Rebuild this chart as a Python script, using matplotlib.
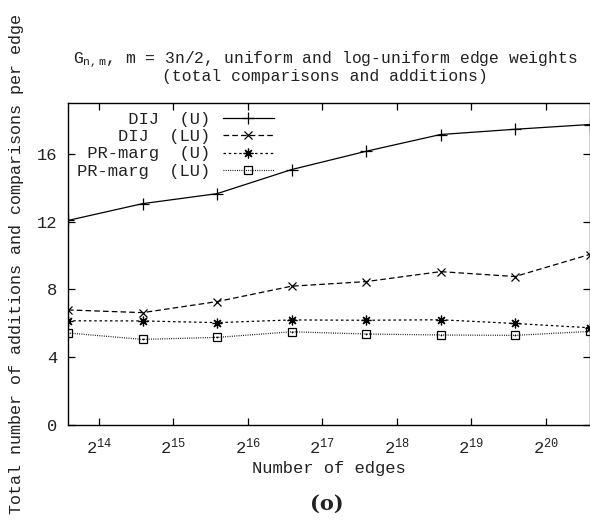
import numpy as np
import matplotlib
matplotlib.use("Agg")
import matplotlib.pyplot as plt

# data
log_n = [13, 14, 15, 16, 17, 18, 19, 20]
edges = [1.5 * 2 ** k for k in log_n]
dij_u = [12.07, 13.06, 13.65, 15.07, 16.15, 17.14, 17.45, 17.73]
dij_lu = [6.79, 6.63, 7.28, 8.19, 8.46, 9.05, 8.76, 10.06]
pr_u = [6.15, 6.14, 6.04, 6.20, 6.18, 6.21, 5.99, 5.74]
pr_lu = [5.43, 5.05, 5.17, 5.50, 5.37, 5.31, 5.29, 5.52]
labels = ["     DIJ  (U)", "    DIJ  (LU)", " PR-marg  (U)", "PR-marg  (LU)"]
xtick_pows = [14, 15, 16, 17, 18, 19, 20]
yticks = [0, 4, 8, 12, 16]

mono = "Liberation Mono"
plt.rcParams['font.family'] = [mono, 'DejaVu Sans Mono']
plt.rcParams['mathtext.fontset'] = 'custom'
plt.rcParams['mathtext.rm'] = mono
plt.rcParams['mathtext.it'] = mono
plt.rcParams['mathtext.tt'] = mono

FS = 12.3
TXT = '#222222'

fig = plt.figure(figsize=(5.90, 5.24), dpi=100)
ax = fig.add_axes([68 / 590, 1 - 425 / 524, (589.5 - 68) / 590, (425 - 103) / 524])

lw = 0.9
ax.plot(edges, dij_u, color='black', lw=lw, ls='-', marker='+', ms=8, mew=0.9, label=labels[0])
ax.plot(edges, dij_lu, color='black', lw=lw, ls=(0, (4.5, 2.5)), marker='x', ms=6, mew=0.9, label=labels[1])
ax.plot(edges, pr_u, color='black', lw=lw, ls=(0, (2, 2.2)), marker=(8, 2, 0), ms=7, mew=0.9, label=labels[2])
ax.plot(edges, pr_lu, color='black', lw=lw, ls=(0, (0.7, 1.1)), marker='s', ms=6, mfc='none', mew=0.9, label=labels[3])
ax.plot(edges, pr_lu, color='black', lw=0, marker='o', ms=1.3, mew=0)

ax.set_xscale('log', base=2)
ax.set_xlim(edges[0], edges[-1])
ax.set_ylim(0, 19)
ax.set_xticks([2.0 ** p for p in xtick_pows])
ax.set_xticklabels([r'$\mathrm{2}^{\mathrm{%d}}$' % p for p in xtick_pows])
ax.xaxis.set_minor_locator(matplotlib.ticker.NullLocator())
ax.set_yticks(yticks)
ax.set_yticklabels([str(v) for v in yticks])
ax.tick_params(direction='in', length=5, width=0.9, top=True, right=True, labelsize=FS,
               pad=8, labelcolor=TXT)
for s in ax.spines.values():
    s.set_linewidth(1.0)

ax.set_xlabel('Number of edges', fontsize=FS, labelpad=3, color=TXT)
ax.set_ylabel('Total number of additions and comparisons per edge', fontsize=12.1,
              labelpad=9, color=TXT)
fig.text(325 / 590, 1 - 84 / 524,
         r'$\mathrm{G}_{\mathrm{n,m}}$, m = 3n/2, uniform and log-uniform edge weights' + '\n(total comparisons and additions)',
         fontsize=11.8, linespacing=0.95, color=TXT, ha='center', va='bottom',
         multialignment='center')

leg = ax.legend(loc='upper left', frameon=False, markerfirst=False, fontsize=FS,
                handlelength=3.0, handletextpad=0.7, labelspacing=0.12,
                bbox_to_anchor=(0.0, 1.0), borderaxespad=0.15)
for t in leg.get_texts():
    t.set_color(TXT)

fig.text(327 / 590, 1 - 504 / 524, '(o)', ha='center', va='center', fontsize=15,
         fontweight='bold', family='DejaVu Serif', color=TXT)

fig.savefig('out.png', dpi=100)
